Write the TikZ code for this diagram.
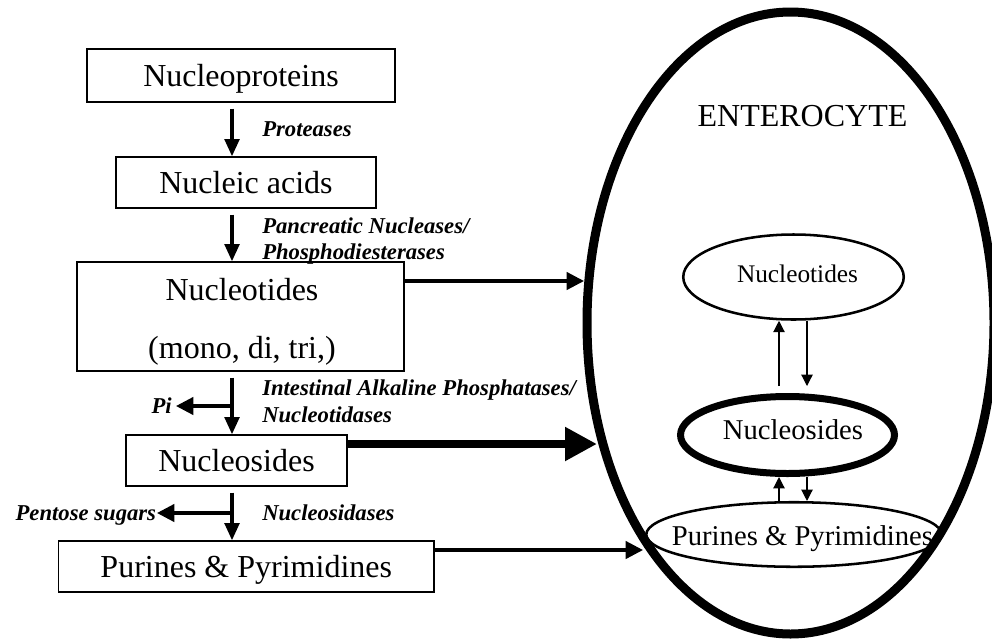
\documentclass[tikz,border=0pt]{standalone}
\usepackage{fontspec}
\setmainfont{Liberation Serif}
\usetikzlibrary{arrows.meta,shapes.geometric}
\begin{document}
\begin{tikzpicture}[x=0.75pt,y=-0.75pt,
  box/.style={draw, line width=1pt, inner sep=0pt, font=\fontsize{24pt}{29pt}\selectfont, text height=15.9pt, text depth=0pt},
  txtA/.style={inner sep=0pt, font=\fontsize{24pt}{29pt}\selectfont, text height=15.9pt, text depth=0pt},
  txtB/.style={inner sep=0pt, font=\fontsize{21.5pt}{26pt}\selectfont, text height=14.2pt, text depth=0pt},
  txtC/.style={inner sep=0pt, font=\fontsize{19pt}{23pt}\selectfont, text height=12.6pt, text depth=0pt},
  lab/.style={anchor=west, inner sep=0pt, font=\fontsize{17pt}{20pt}\selectfont\bfseries\itshape, text height=11.25pt, text depth=0pt},
  varrow/.style={line width=2.6pt, -{Triangle[length=13pt,width=11pt]}},
  harrow/.style={line width=2.4pt, -{Triangle[length=13pt,width=13pt]}},
  bigarrow/.style={line width=6pt, -{Triangle[length=24pt,width=24pt]}},
  sarrow/.style={line width=0.9pt, -{Triangle[length=8.5pt,width=8.5pt]}},
  ell/.style={draw, ellipse, inner sep=0pt},
]
\useasboundingbox (0,0) rectangle (992,640);

% left column boxes
\node[box, minimum width=231pt, minimum height=39.75pt] (np) at (241,75.5) {Nucleoproteins};
\node[box, minimum width=195pt, minimum height=38.25pt] (na) at (246,182.5) {Nucleic acids};
\node[box, minimum width=245.25pt, minimum height=81.75pt] (nt) at (240.5,316.5) {};
\node[txtA] (ntt1) at (242,290) {Nucleotides};
\node[txtA] (ntt2) at (242,348) {(mono, di, tri,)};
\node[box, minimum width=165.75pt, minimum height=38.25pt] (ns) at (236.5,460.5) {Nucleosides};
\node[box, minimum width=281.6pt, minimum height=38.25pt] (pp) at (246.25,566.5) {Purines \& Pyrimidines};

% enzyme labels
\node[lab] (lp) at (262,129) {Proteases};
\node[lab] (lpn1) at (262,226) {Pancreatic Nucleases/};
\node[lab] (lpn2) at (262,252) {Phosphodiesterases};
\node[lab] (lia1) at (262,388) {Intestinal Alkaline Phosphatases/};
\node[lab] (lia2) at (262,415) {Nucleotidases};
\node[lab] (lns) at (262,513) {Nucleosidases};
\node[lab, anchor=east, inner xsep=3pt] (pi) at (176,406) {Pi};
\node[lab, anchor=east, inner xsep=0.5pt] (ps) at (157,513) {Pentose sugars};

% vertical flow
\coordinate (col) at (232,0);
\coordinate (b1) at (232,406);
\coordinate (b2) at (232,513);
\draw[varrow] ([yshift=-4.5pt]np.south -| col) -- (na.north -| col);
\draw[varrow] ([yshift=-4.5pt]na.south -| col) -- (nt.north -| col);
\draw[varrow] ([yshift=-4.5pt]nt.south -| col) -- (ns.north -| col);
\draw[varrow] ([yshift=-4.5pt]ns.south -| col) -- (pp.north -| col);
\draw[harrow] (b1) -- (pi.east);
\draw[harrow] (b2) -- (ps.east);

% enterocyte
\node[ell, line width=6.75pt, minimum width=305.25pt, minimum height=466.5pt] (ent) at (790.5,323) {};
\node[txtA] (entl) at (802.5,116) {ENTEROCYTE};
\node[ell, line width=1.9pt, minimum width=165.4pt, minimum height=63.75pt] (nte) at (793.5,277) {};
\node[txtC] (ntel) at (797.5,274) {Nucleotides};
\node[ell, line width=5.25pt, minimum width=160.5pt, minimum height=57.75pt] (nse) at (787.5,435) {};
\node[txtB] (nsel) at (793,430.5) {Nucleosides};
\node[ell, line width=1.9pt, minimum width=221.6pt, minimum height=48.4pt] (ppe) at (794,534.5) {};
\node[txtB] (ppel) at (802.5,536) {Purines \& Pyrimidines};

% arrows into enterocyte
\coordinate (t1) at (584,281);
\coordinate (t2) at (597,444);
\coordinate (t3) at (643,550);
\draw[harrow] (nt.east |- t1) -- (t1);
\draw[bigarrow] (ns.east |- t2) -- (t2);
\draw[harrow] (pp.east |- t3) -- (t3);

% arrows inside enterocyte
\coordinate (cu) at (779,0);
\coordinate (cd) at (807,0);
\draw[sarrow] ([yshift=5.25pt]nse.north -| cu) -- (nte.south -| cu);
\draw[sarrow] (nte.south -| cd) -- ([yshift=5.25pt]nse.north -| cd);
\draw[sarrow] (ppe.north -| cu) -- (nse.south -| cu);
\draw[sarrow] (nse.south -| cd) -- (ppe.north -| cd);
\end{tikzpicture}
\end{document}
